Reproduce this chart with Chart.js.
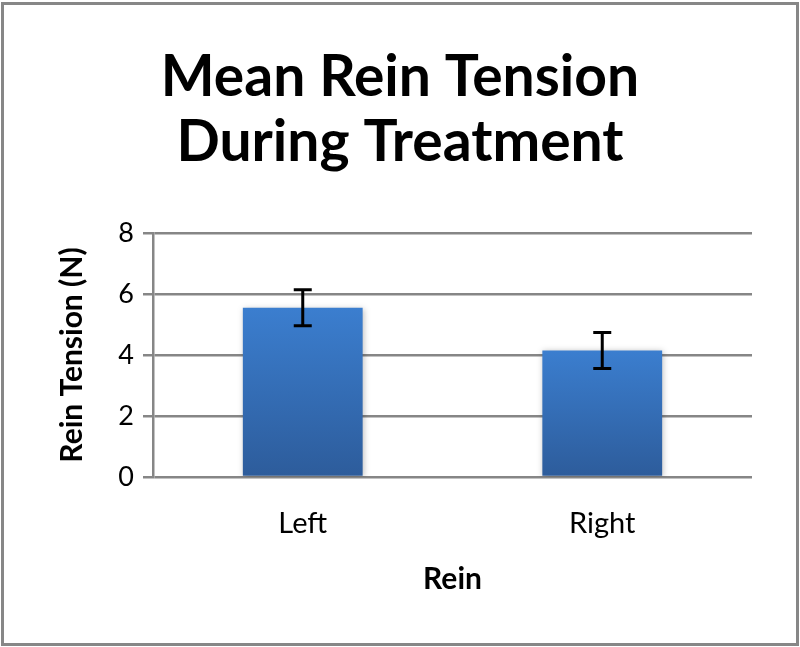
<!DOCTYPE html>
<html>
<head>
<meta charset="utf-8">
<script src="https://cdn.jsdelivr.net/npm/chart.js@4.4.0/dist/chart.umd.min.js"></script>
<style>
  html, body { margin: 0; padding: 0; background: #fff; }
  #moldura { position: absolute; left: 1px; top: 2px; width: 792px; height: 638px; border: 3px solid #878787; }
  #grafico { position: absolute; left: 0; top: 0; }
</style>
</head>
<body>
<div id="moldura"></div>
<canvas id="grafico" width="800" height="647"></canvas>
<script>
// Dados do gráfico
const categorias = ["Left", "Right"];
const valores = [5.55, 4.15];
const erros = [0.59, 0.59];
const ticksY = [0, 2, 4, 6, 8];

const fonte = "Lato, 'Open Sans', sans-serif";

// Plugin para desenhar as barras de erro
const barrasErro = {
  id: "barrasErro",
  afterDatasetsDraw(chart) {
    const ctx = chart.ctx;
    const escalaY = chart.scales.y;
    const meta = chart.getDatasetMeta(0);
    ctx.save();
    ctx.strokeStyle = "#000";
    ctx.lineWidth = 3;
    meta.data.forEach((barra, i) => {
      const topo = escalaY.getPixelForValue(valores[i] + erros[i]);
      const base = escalaY.getPixelForValue(valores[i] - erros[i]);
      ctx.beginPath();
      ctx.moveTo(barra.x, topo);
      ctx.lineTo(barra.x, base);
      ctx.moveTo(barra.x - 9, topo);
      ctx.lineTo(barra.x + 9, topo);
      ctx.moveTo(barra.x - 9, base);
      ctx.lineTo(barra.x + 9, base);
      ctx.stroke();
    });
    ctx.restore();
  }
};

// Sombra leve atrás das barras
const sombra = {
  id: "sombra",
  beforeDatasetDraw(chart) {
    const ctx = chart.ctx;
    ctx.save();
    ctx.shadowColor = "rgba(0, 0, 0, 0.25)";
    ctx.shadowBlur = 6;
    ctx.shadowOffsetX = 1;
    ctx.shadowOffsetY = 1;
  },
  afterDatasetDraw(chart) {
    chart.ctx.restore();
  }
};

const ctx = document.getElementById("grafico").getContext("2d");
const myChart = new Chart(ctx, {
  type: "bar",
  data: {
    labels: categorias,
    datasets: [{
      data: valores,
      backgroundColor: (context) => {
        const area = context.chart.chartArea;
        if (!area) return "#3a78c8";
        const topo = context.chart.scales.y.getPixelForValue(valores[context.dataIndex]);
        const g = context.chart.ctx.createLinearGradient(0, topo, 0, area.bottom);
        g.addColorStop(0, "#3b7ecf");
        g.addColorStop(1, "#2d5c9b");
        return g;
      },
      borderWidth: 0,
      barPercentage: 0.4,
      categoryPercentage: 1
    }]
  },
  options: {
    responsive: false,
    animation: false,
    devicePixelRatio: 1,
    layout: { padding: 0 },
    plugins: {
      legend: { display: false },
      tooltip: { enabled: false },
      title: {
        display: true,
        text: ["Mean Rein Tension", "During Treatment"],
        color: "#000",
        font: { family: fonte, size: 57, weight: "bold", lineHeight: 1.14 },
        padding: { top: 45, bottom: 58 }
      }
    },
    scales: {
      x: {
        grid: { display: false, drawTicks: false },
        border: { display: false },
        ticks: { color: "#000", padding: 29, font: { family: fonte, size: 29 } },
        title: {
          display: true,
          text: "Rein",
          color: "#000",
          font: { family: fonte, size: 30, weight: "bold" },
          padding: { top: 0, bottom: 50 }
        },
        afterFit: (scale) => { scale.height = 170; }
      },
      y: {
        min: 0,
        max: 8,
        afterBuildTicks: (scale) => { scale.ticks = ticksY.map(v => ({ value: v })); },
        grid: { color: "#868686", lineWidth: 2.5, tickLength: 10 },
        border: { color: "#868686", width: 2.5 },
        ticks: { color: "#000", padding: 9, font: { family: fonte, size: 27 } },
        title: {
          display: true,
          text: "Rein Tension (N)",
          color: "#000",
          font: { family: fonte, size: 30, weight: "bold" },
          padding: { top: 54, bottom: 0 }
        },
        afterFit: (scale) => { scale.width = 153; }
      },
      // eixo vazio à direita só para reservar a margem
      margem: {
        position: "right",
        display: true,
        grid: { display: false, drawTicks: false },
        border: { display: false },
        ticks: { display: false },
        afterFit: (scale) => { scale.width = 48; }
      }
    }
  },
  plugins: [sombra, barrasErro]
});
</script>
</body>
</html>
